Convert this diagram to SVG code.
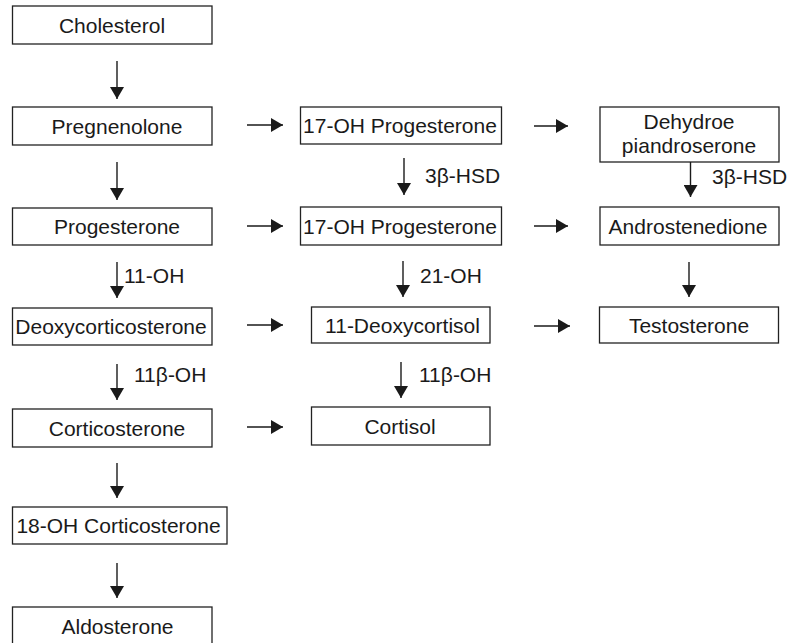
<svg xmlns="http://www.w3.org/2000/svg" width="792" height="643" viewBox="0 0 792 643">
<style>
  .box { fill: #ffffff; stroke: #222; stroke-width: 1.3; }
  .t { font-family: "Liberation Sans", Arial, sans-serif; font-size: 21px; fill: #1a1a1a; text-anchor: middle; }
  .lbl { font-family: "Liberation Sans", Arial, sans-serif; font-size: 21px; fill: #1a1a1a; text-anchor: start; }
  .c { stroke: #1a1a1a; stroke-width: 1.4; fill: none; marker-end: url(#ah); }
</style>
<defs>
  <marker id="ah" viewBox="0 0 12 14" refX="12" refY="7" markerWidth="12" markerHeight="14" markerUnits="userSpaceOnUse" orient="auto">
    <path d="M0,0 L12,7 L0,14 z" fill="#1a1a1a"/>
  </marker>
</defs>
<rect width="792" height="643" fill="#ffffff"/>

<g id="cholesterol"><rect class="box" x="12.5" y="6" width="199.5" height="38"/><text class="t" x="112" y="32.5">Cholesterol</text></g>
<g id="pregnenolone"><rect class="box" x="12.5" y="107" width="199.5" height="38"/><text class="t" x="117" y="133.5">Pregnenolone</text></g>
<g id="progesterone"><rect class="box" x="12.5" y="208" width="199.5" height="37"/><text class="t" x="117" y="234">Progesterone</text></g>
<g id="deoxycorticosterone"><rect class="box" x="12.5" y="308" width="199.5" height="37"/><text class="t" x="111" y="334">Deoxycorticosterone</text></g>
<g id="corticosterone"><rect class="box" x="12.5" y="409" width="199.5" height="38"/><text class="t" x="117" y="435.5">Corticosterone</text></g>
<g id="oh18-corticosterone"><rect class="box" x="12.5" y="507" width="214.5" height="37"/><text class="t" x="118.5" y="533">18-OH Corticosterone</text></g>
<g id="aldosterone"><rect class="box" x="12.5" y="607" width="199.5" height="38"/><text class="t" x="117.5" y="633.5">Aldosterone</text></g>

<g id="oh17-progesterone-a"><rect class="box" x="300.5" y="107" width="201" height="37"/><text class="t" x="400" y="133">17-OH Progesterone</text></g>
<g id="oh17-progesterone-b"><rect class="box" x="300.5" y="207" width="201" height="38"/><text class="t" x="400" y="233.5">17-OH Progesterone</text></g>
<g id="deoxycortisol"><rect class="box" x="311.5" y="307" width="178.5" height="36"/><text class="t" x="402.5" y="332.5">11-Deoxycortisol</text></g>
<g id="cortisol"><rect class="box" x="311.5" y="407" width="178.5" height="38"/><text class="t" x="400" y="433.5">Cortisol</text></g>

<g id="dhea"><rect class="box" x="600" y="107" width="179" height="55"/><text class="t" x="689" y="129">Dehydroe</text><text class="t" x="689" y="153">piandroserone</text></g>
<g id="androstenedione"><rect class="box" x="600" y="207" width="179" height="38"/><text class="t" x="688" y="233.5">Androstenedione</text></g>
<g id="testosterone"><rect class="box" x="599.5" y="307" width="179" height="36"/><text class="t" x="689" y="332.5">Testosterone</text></g>

<g id="connectors">
  <line class="c" x1="117" y1="61" x2="117" y2="99"/>
  <line class="c" x1="117" y1="162" x2="117" y2="200"/>
  <line class="c" x1="117" y1="262" x2="117" y2="298"/>
  <line class="c" x1="117" y1="364" x2="117" y2="400"/>
  <line class="c" x1="117" y1="463" x2="117" y2="498"/>
  <line class="c" x1="117" y1="563" x2="117" y2="598"/>

  <line class="c" x1="404" y1="158" x2="404" y2="195"/>
  <line class="c" x1="403" y1="261" x2="403" y2="297"/>
  <line class="c" x1="401" y1="362" x2="401" y2="398"/>

  <line class="c" x1="690.5" y1="162" x2="690.5" y2="197"/>
  <line class="c" x1="689" y1="262" x2="689" y2="297"/>

  <line class="c" x1="247" y1="125" x2="283" y2="125"/>
  <line class="c" x1="247" y1="226" x2="283" y2="226"/>
  <line class="c" x1="247" y1="325" x2="283" y2="325"/>
  <line class="c" x1="247" y1="427" x2="283" y2="427"/>

  <line class="c" x1="534" y1="126" x2="568" y2="126"/>
  <line class="c" x1="534" y1="226" x2="568" y2="226"/>
  <line class="c" x1="534" y1="326" x2="570" y2="326"/>

  <text class="lbl" x="425" y="183">3β-HSD</text>
  <text class="lbl" x="712" y="184">3β-HSD</text>
  <text class="lbl" x="124" y="283">11-OH</text>
  <text class="lbl" x="420" y="283">21-OH</text>
  <text class="lbl" x="134" y="382">11β-OH</text>
  <text class="lbl" x="419" y="382">11β-OH</text>
</g>
</svg>
